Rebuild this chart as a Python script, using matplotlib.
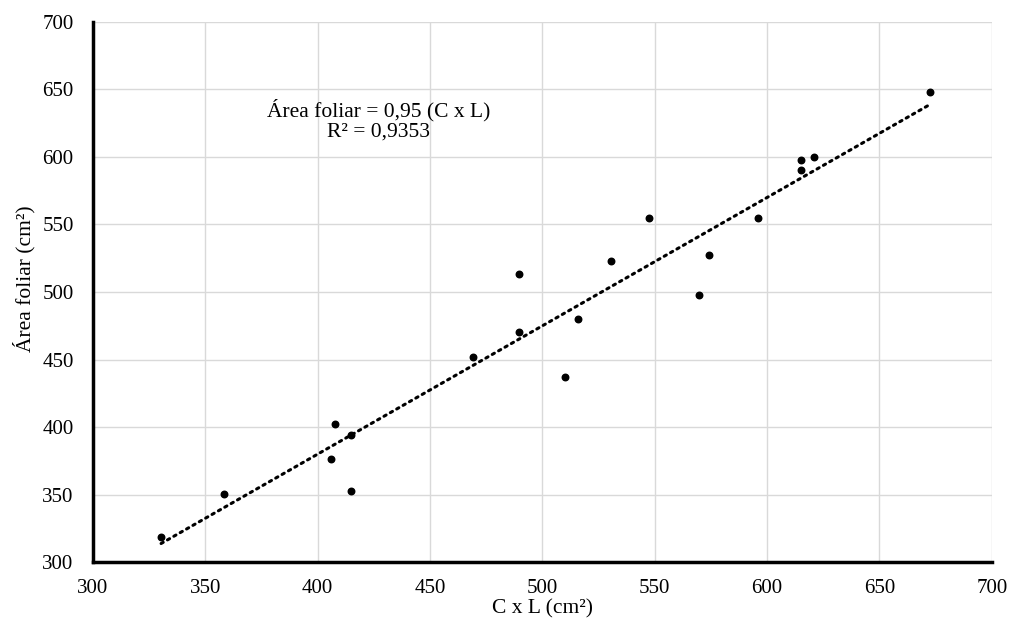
import numpy as np
import matplotlib.pyplot as plt

plt.rcParams['font.family'] = ['Liberation Serif', 'DejaVu Serif']

# Dados: C x L (cm²) e área foliar (cm²)
cxl = [330.3, 358.2, 407.9, 414.6, 405.9, 414.6, 469.1, 489.8, 489.8, 509.9,
       515.9, 530.4, 547.5, 569.5, 574.1, 596.0, 615.2, 615.2, 620.7, 672.5]
area = [318.7, 350.4, 402.0, 394.3, 376.1, 352.6, 451.6, 470.6, 513.1, 437.3,
        480.2, 523.2, 554.6, 498.0, 527.6, 554.6, 598.0, 590.6, 599.8, 648.0]
slope = 0.95
ticks = [300, 350, 400, 450, 500, 550, 600, 650, 700]

fig = plt.figure(figsize=(10.11, 6.26), dpi=100)
ax = fig.add_axes([0.092, 0.102, 0.889, 0.863])

ax.scatter(cxl, area, s=22, color='black', zorder=3)

# Linha de tendência (regressão pela origem)
xl = np.array([min(cxl), max(cxl)])
ax.plot(xl, slope * xl, color='black', linestyle=(0, (0.8, 1.6)),
        linewidth=2.2, dash_capstyle='round', zorder=2)

ax.text(427, 627, 'Área foliar = 0,95 (C x L)\nR² = 0,9353', ha='center',
        va='center', fontsize=15.5, multialignment='center', linespacing=1.05)

ax.set_xlim(300, 700)
ax.set_ylim(300, 700)
ax.set_xticks(ticks)
ax.set_yticks(ticks)
ax.grid(True, color='#d9d9d9', linewidth=1)
ax.set_axisbelow(True)
ax.tick_params(length=0, labelsize=15)
ax.tick_params(axis='x', pad=12)
ax.tick_params(axis='y', pad=14)

for s in ['top', 'right']:
    ax.spines[s].set_visible(False)
for s in ['left', 'bottom']:
    ax.spines[s].set_linewidth(2.5)

ax.set_xlabel('C x L (cm²)', fontsize=15.5, labelpad=1)
ax.set_ylabel('Área foliar (cm²)', fontsize=15.5)
ax.yaxis.set_label_coords(-0.064, 0.525)

fig.savefig('out.png', dpi=100)
